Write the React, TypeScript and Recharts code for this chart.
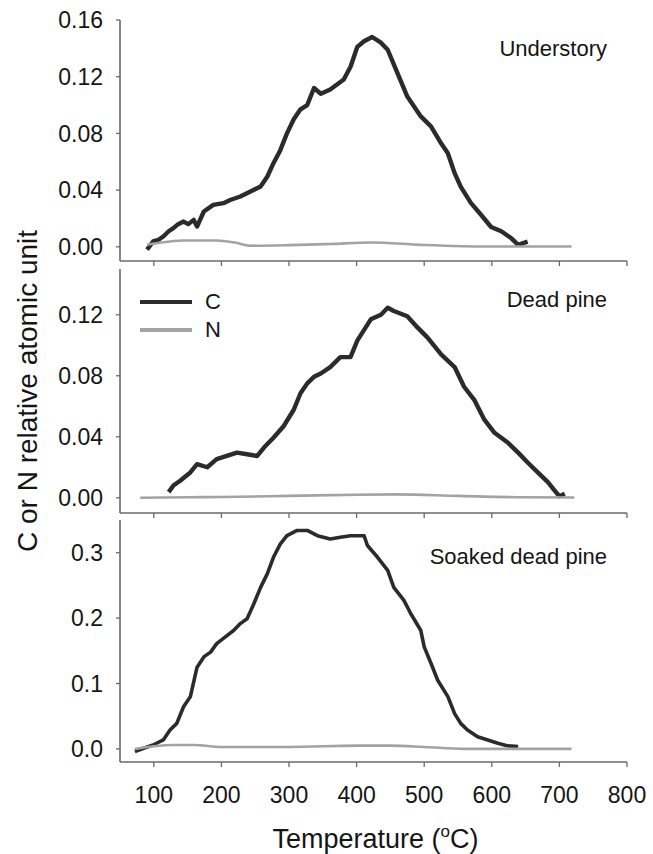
import React from 'react';
import { LineChart, Line, XAxis, YAxis, Legend, Label } from 'recharts';

const FONT = '"Liberation Sans", Arial, Helvetica, sans-serif';
const AX = '#6a6a6a';
const C_COLOR = '#2b2b2b';
const N_COLOR = '#a3a3a3';
const TEXT = '#151515';

const TEMP_TICKS = [100, 200, 300, 400, 500, 600, 700, 800];
const X_DOMAIN = [50, 800];

// Understory
const underC_T = [90, 99, 107, 114, 122, 129, 136, 144, 151, 159, 164, 174, 188, 203, 213, 228, 243, 258, 268, 277, 287, 297, 307, 317, 327, 337, 347, 361, 381, 391, 401, 411, 423, 436, 446, 460, 475, 495, 510, 525, 535, 545, 554, 569, 584, 599, 614, 629, 639, 653];
const underC_V = [-0.002, 0.0038, 0.005, 0.0073, 0.011, 0.0132, 0.016, 0.0178, 0.016, 0.019, 0.0143, 0.0249, 0.0296, 0.0308, 0.033, 0.0355, 0.039, 0.0426, 0.0496, 0.059, 0.068, 0.08, 0.09, 0.097, 0.1, 0.112, 0.108, 0.111, 0.118, 0.127, 0.141, 0.145, 0.148, 0.144, 0.139, 0.123, 0.106, 0.092, 0.085, 0.073, 0.066, 0.052, 0.0425, 0.031, 0.0226, 0.014, 0.011, 0.006, 0.0014, 0.0037];
const underN_T = [90, 110, 143, 193, 220, 243, 300, 361, 421, 495, 594, 718];
const underN_V = [0.0014, 0.003, 0.0045, 0.0045, 0.003, 0.0008, 0.0012, 0.002, 0.003, 0.0014, 0.0002, 0.0002];

// Dead pine
const deadC_T = [122, 129, 139, 154, 164, 179, 193, 208, 223, 238, 253, 263, 277, 292, 307, 317, 327, 337, 347, 361, 376, 391, 401, 421, 436, 446, 455, 475, 490, 505, 525, 545, 559, 574, 589, 604, 624, 639, 653, 668, 683, 693, 700, 708];
const deadC_V = [0.0037, 0.008, 0.0112, 0.0166, 0.022, 0.02, 0.0253, 0.0274, 0.0296, 0.0285, 0.0274, 0.0329, 0.0393, 0.0469, 0.0577, 0.0685, 0.075, 0.0793, 0.0815, 0.0857, 0.0922, 0.0922, 0.103, 0.117, 0.12, 0.1246, 0.1225, 0.119, 0.1117, 0.105, 0.094, 0.0857, 0.0728, 0.0642, 0.0512, 0.0426, 0.036, 0.0296, 0.0231, 0.0166, 0.0102, 0.0047, 0.001, 0.0026];
const deadN_T = [80, 150, 200, 300, 400, 460, 550, 650, 722];
const deadN_V = [0.0, 0.0003, 0.0005, 0.0012, 0.002, 0.0022, 0.0012, 0.0003, 0.0002];

// Soaked dead pine
const soakC_T = [72, 85, 99, 114, 124, 134, 144, 154, 164, 174, 184, 193, 203, 218, 228, 238, 248, 258, 268, 277, 287, 297, 312, 327, 342, 361, 376, 391, 411, 416, 431, 446, 455, 470, 480, 495, 500, 510, 520, 535, 545, 554, 564, 579, 594, 609, 624, 639];
const soakC_V = [-0.004, 0.001, 0.006, 0.0137, 0.029, 0.039, 0.0645, 0.0797, 0.125, 0.1407, 0.148, 0.161, 0.169, 0.181, 0.1916, 0.199, 0.222, 0.247, 0.268, 0.293, 0.313, 0.326, 0.334, 0.334, 0.326, 0.321, 0.3236, 0.326, 0.326, 0.311, 0.293, 0.273, 0.247, 0.227, 0.207, 0.181, 0.156, 0.131, 0.105, 0.08, 0.054, 0.039, 0.029, 0.0187, 0.0137, 0.0087, 0.0046, 0.0035];
const soakN_T = [72, 100, 130, 160, 200, 300, 400, 450, 500, 560, 718];
const soakN_V = [0.0, 0.004, 0.006, 0.006, 0.003, 0.003, 0.005, 0.005, 0.003, 0.0, 0.0];

const PANEL_NAMES = ['Understory', 'Dead pine', 'Soaked dead pine'];
const Y_TICKS_1 = [0, 0.04, 0.08, 0.12, 0.16];
const Y_TICKS_2 = [0, 0.04, 0.08, 0.12];
const Y_TICKS_3 = [0, 0.1, 0.2, 0.3];
const Y_DOMAIN_1 = [-0.01, 0.16];
const Y_DOMAIN_2 = [-0.01, 0.15];
const Y_DOMAIN_3 = [-0.02, 0.35];

const toPts = (t: number[], v: number[]) => t.map((x, i) => ({ t: x, v: v[i] }));

const EmptyTick = () => <g />;

const PLOT_RIGHT = 653 - 26;

const LegendContent = (props: any) => {
  const payload = props.payload || [];
  return (
    <div style={{ fontFamily: FONT }}>
      {payload.map((p: any) => (
        <div key={p.value} style={{ display: 'flex', alignItems: 'center', height: 28 }}>
          <svg width={52} height={6} style={{ display: 'block' }}>
            <line x1={0} x2={52} y1={3} y2={3} stroke={p.color} strokeWidth={4} />
          </svg>
          <span style={{ marginLeft: 13, fontSize: 22, color: TEXT, lineHeight: '28px' }}>{p.value}</span>
        </div>
      ))}
    </div>
  );
};

type PanelProps = {
  top: number;
  marginTop: number;
  plotHeight: number;
  xAxisHeight: number;
  yDomain: number[];
  yTicks: number[];
  digits: number;
  cData: { t: number; v: number }[];
  nData: { t: number; v: number }[];
  name: string;
  nameDy: number;
  cWidth: number;
  showXLabels?: boolean;
  legend?: boolean;
  yTitle?: boolean;
};

function Panel(p: PanelProps) {
  const height = p.marginTop + p.plotHeight + p.xAxisHeight;
  return (
    <div style={{ position: 'absolute', left: 0, top: p.top }}>
      <LineChart width={653} height={height} margin={{ top: p.marginTop, right: 26, bottom: 0, left: 0 }}>
        <XAxis
          xAxisId="b"
          type="number"
          dataKey="t"
          domain={X_DOMAIN}
          ticks={TEMP_TICKS}
          interval={0}
          allowDataOverflow
          height={p.xAxisHeight}
          tickSize={5}
          tickMargin={20}
          tickLine={{ stroke: AX, strokeWidth: 1.3 }}
          axisLine={{ stroke: AX, strokeWidth: 1.6 }}
          tick={p.showXLabels ? { fill: TEXT, fontSize: 23, fontFamily: FONT } : EmptyTick}
        >
          {p.showXLabels && (
            <Label
              content={(lp: any) => {
                const vb = lp.viewBox || {};
                return (
                  <text x={vb.x + vb.width / 2 + 2} y={vb.y + 86} textAnchor="middle" fill={TEXT} fontSize={27} fontFamily={FONT}>
                    Temperature (
                    <tspan fontSize={17} dy={-11}>o</tspan>
                    <tspan dy={11}>C)</tspan>
                  </text>
                );
              }}
            />
          )}
        </XAxis>
        <XAxis xAxisId="top" orientation="top" type="number" dataKey="t" domain={X_DOMAIN} height={0} tick={false} tickLine={false} axisLine={{ stroke: AX, strokeWidth: 1.6 }} />
        <YAxis
          yAxisId="l"
          type="number"
          domain={p.yDomain}
          ticks={p.yTicks}
          interval={0}
          allowDataOverflow
          width={120}
          tickSize={4}
          tickMargin={13}
          tickLine={{ stroke: AX, strokeWidth: 1.3 }}
          axisLine={{ stroke: AX, strokeWidth: 1.6 }}
          tick={{ fill: TEXT, fontSize: 23, fontFamily: FONT }}
          tickFormatter={(v: number) => v.toFixed(p.digits)}
        >
          <Label
            content={(lp: any) => {
              const vb = lp.viewBox || {};
              return (
                <text x={PLOT_RIGHT - 20} y={vb.y + p.nameDy} textAnchor="end" dominantBaseline="central" fill={TEXT} fontSize={22} fontFamily={FONT}>
                  {p.name}
                </text>
              );
            }}
          />
          {p.yTitle && (
            <Label
              content={(lp: any) => {
                const vb = lp.viewBox || {};
                const cy = vb.y + vb.height / 2;
                return (
                  <text x={27} y={cy} transform={`rotate(-90, 27, ${cy})`} textAnchor="middle" dominantBaseline="central" fill={TEXT} fontSize={28} fontFamily={FONT}>
                    C or N relative atomic unit
                  </text>
                );
              }}
            />
          )}
        </YAxis>
        <YAxis yAxisId="r" orientation="right" width={0} domain={p.yDomain} tick={false} tickLine={false} axisLine={{ stroke: AX, strokeWidth: 1.6 }} />
        {p.legend && (
          <Legend
            layout="vertical"
            align="center"
            verticalAlign="middle"
            content={LegendContent}
            wrapperStyle={{ left: 140, top: 28, width: 100, height: 56 }}
          />
        )}
        <Line xAxisId="b" yAxisId="l" data={p.cData} dataKey="v" name="C" type="linear" stroke={C_COLOR} strokeWidth={p.cWidth} strokeLinejoin="round" dot={false} activeDot={false} isAnimationActive={false} />
        <Line xAxisId="b" yAxisId="l" data={p.nData} dataKey="v" name="N" type="monotone" stroke={N_COLOR} strokeWidth={2.6} dot={false} activeDot={false} isAnimationActive={false} />
      </LineChart>
    </div>
  );
}

export default function App() {
  return (
    <div style={{ position: 'absolute', left: 0, top: 0, width: 653, height: 854, background: '#fff', overflow: 'hidden' }}>
      <style>{'.recharts-surface{overflow:visible}'}</style>
      <Panel
        top={0}
        marginTop={20}
        plotHeight={241}
        xAxisHeight={10}
        yDomain={Y_DOMAIN_1}
        yTicks={Y_TICKS_1}
        digits={2}
        cData={toPts(underC_T, underC_V)}
        nData={toPts(underN_T, underN_V)}
        name={PANEL_NAMES[0]}
        nameDy={28}
        cWidth={4.4}
      />
      <Panel
        top={260}
        marginTop={9}
        plotHeight={244}
        xAxisHeight={10}
        yDomain={Y_DOMAIN_2}
        yTicks={Y_TICKS_2}
        digits={2}
        cData={toPts(deadC_T, deadC_V)}
        nData={toPts(deadN_T, deadN_V)}
        name={PANEL_NAMES[1]}
        nameDy={30}
        cWidth={4.4}
        legend
        yTitle
      />
      <Panel
        top={510}
        marginTop={10}
        plotHeight={242}
        xAxisHeight={92}
        yDomain={Y_DOMAIN_3}
        yTicks={Y_TICKS_3}
        digits={1}
        cData={toPts(soakC_T, soakC_V)}
        nData={toPts(soakN_T, soakN_V)}
        name={PANEL_NAMES[2]}
        nameDy={36}
        cWidth={3.6}
        showXLabels
      />
    </div>
  );
}
